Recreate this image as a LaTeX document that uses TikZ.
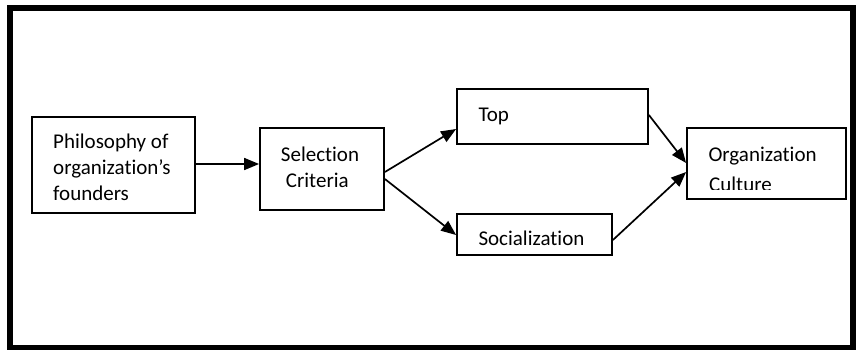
\documentclass[tikz,border=0pt]{standalone}
\usepackage{fontspec}
\setmainfont{Carlito}[Ligatures=NoCommon]
\usetikzlibrary{arrows.meta}
\begin{document}
\begin{tikzpicture}[x=1pt,y=-1pt,
  box/.style={draw=black,line width=1.8pt,inner sep=0pt,minimum width=#1},
  txt/.style={inner sep=0pt,anchor=base west,font=\fontsize{21}{25.6}\selectfont},
  arr/.style={line width=1.7pt,-{Triangle[length=15pt,width=12pt]}}]
\useasboundingbox (0,0) rectangle (856,349);
\fill[white] (0,0) rectangle (856,349);
% outer frame
\draw[line width=5.5pt] (10,8) rectangle (853,347.5);
% boxes
\node[box=163pt,minimum height=96pt] (phil) at (113.5,165) {};
\node[box=124pt,minimum height=82pt] (sel) at (322,169) {};
\node[box=191pt,minimum height=55pt] (top) at (552.5,116.5) {};
\node[box=155pt,minimum height=41pt] (soc) at (534.5,234.5) {};
\node[box=159pt,minimum height=71pt] (org) at (766.5,163.5) {};
% texts
\node[txt] (p1) at (53,148) {Philosophy of};
\node[txt] (p2) at (53,174) {organization’s};
\node[txt] (p3) at (53,200) {founders};
\node[txt] (s1) at (280.7,161) {Selection};
\node[txt] (s2) at (285.7,187) {Criteria};
\node[txt] (t1) at (478.3,121) {Top};
\node[txt] (so1) at (478.3,245) {Socialization};
\node[txt] (o1) at (708.3,161) {Organization};
\begin{scope}
\clip (690,130) rectangle (844,189.5);
\node[txt] (o2) at (709,191) {Culture};
\end{scope}
% connectors
\draw[arr] (phil.east |- 0,164) -- (sel.west |- 0,164);
\draw[arr] (sel.east |- 0,172) -- (top.west |- 0,129);
\draw[arr] (sel.east |- 0,179) -- (soc.west |- 0,235);
\draw[arr] (top.east |- 0,115) -- (org.west |- 0,163);
\draw[arr] (soc.east |- 0,240) -- (org.west |- 0,172);
\end{tikzpicture}
\end{document}
